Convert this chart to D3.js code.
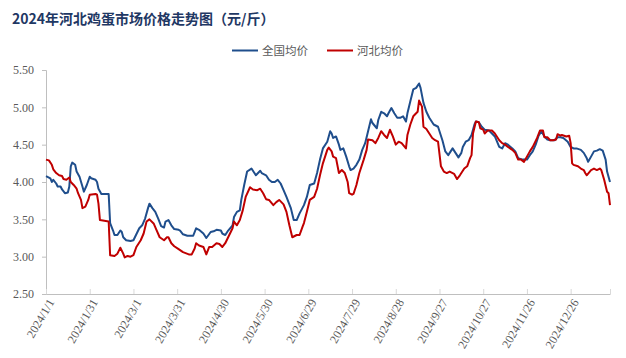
<!DOCTYPE html>
<html>
<head>
<meta charset="utf-8">
<script src="https://cdn.jsdelivr.net/npm/d3@7"></script>
<style>
  html, body { margin: 0; padding: 0; background: #fff; }
  svg { display: block; }
</style>
</head>
<body>
<svg id="chart" width="626" height="358"></svg>
<script>
const title = "2024年河北鸡蛋市场价格走势图（元/斤）";
const seriesNames = ["全国均价", "河北均价"];
const yTicks = [2.50, 3.00, 3.50, 4.00, 4.50, 5.00, 5.50];
const xTickLabels = ["2024/1/1","2024/1/31","2024/3/1","2024/3/31","2024/4/30","2024/5/30","2024/6/29","2024/7/29","2024/8/28","2024/9/27","2024/10/27","2024/11/26","2024/12/26"];
const xDomain = ["2024/1/1", "2025/1/22"];

const national = [
["2024/1/1",4.08],["2024/1/4",4.05],["2024/1/5",4.00],["2024/1/6",4.03],["2024/1/8",3.98],["2024/1/9",3.94],["2024/1/11",3.94],["2024/1/12",3.90],["2024/1/14",3.85],["2024/1/16",3.86],["2024/1/17",3.94],["2024/1/18",4.21],["2024/1/19",4.26],["2024/1/21",4.23],["2024/1/22",4.14],["2024/1/24",4.07],["2024/1/26",3.94],["2024/1/27",3.87],["2024/1/29",3.96],["2024/1/31",4.07],
["2024/2/1",4.05],["2024/2/4",4.03],["2024/2/5",4.00],["2024/2/6",3.91],["2024/2/8",3.84],["2024/2/13",3.84],["2024/2/14",3.45],["2024/2/16",3.35],["2024/2/17",3.29],["2024/2/19",3.29],["2024/2/21",3.35],["2024/2/22",3.33],["2024/2/23",3.26],["2024/2/25",3.22],["2024/2/28",3.21],
["2024/3/1",3.22],["2024/3/2",3.26],["2024/3/5",3.38],["2024/3/7",3.42],["2024/3/9",3.51],["2024/3/11",3.65],["2024/3/12",3.71],["2024/3/14",3.65],["2024/3/16",3.60],["2024/3/18",3.51],["2024/3/20",3.41],["2024/3/22",3.39],["2024/3/23",3.47],["2024/3/25",3.49],["2024/3/27",3.42],["2024/3/29",3.37],
["2024/4/1",3.36],["2024/4/2",3.35],["2024/4/4",3.30],["2024/4/7",3.28],["2024/4/11",3.28],["2024/4/13",3.38],["2024/4/15",3.36],["2024/4/18",3.31],["2024/4/20",3.25],["2024/4/23",3.33],["2024/4/25",3.34],["2024/4/27",3.36],["2024/4/30",3.35],
["2024/5/1",3.31],["2024/5/3",3.29],["2024/5/5",3.35],["2024/5/8",3.42],["2024/5/9",3.53],["2024/5/11",3.60],["2024/5/13",3.62],["2024/5/14",3.76],["2024/5/16",3.96],["2024/5/18",4.14],["2024/5/21",4.18],["2024/5/22",4.15],["2024/5/24",4.09],["2024/5/27",4.15],["2024/5/28",4.12],["2024/5/31",4.09],
["2024/6/2",4.03],["2024/6/4",4.00],["2024/6/6",4.00],["2024/6/8",4.03],["2024/6/10",3.98],["2024/6/12",3.89],["2024/6/14",3.80],["2024/6/17",3.65],["2024/6/19",3.49],["2024/6/21",3.49],["2024/6/23",3.58],["2024/6/26",3.69],["2024/6/28",3.80],["2024/6/30",3.96],
["2024/7/3",3.98],["2024/7/5",4.12],["2024/7/7",4.30],["2024/7/9",4.45],["2024/7/12",4.54],["2024/7/14",4.68],["2024/7/15",4.65],["2024/7/16",4.59],["2024/7/18",4.61],["2024/7/20",4.50],["2024/7/21",4.43],["2024/7/23",4.45],["2024/7/25",4.34],["2024/7/27",4.21],["2024/7/28",4.16],["2024/7/30",4.18],
["2024/8/1",4.23],["2024/8/3",4.30],["2024/8/5",4.43],["2024/8/7",4.52],["2024/8/9",4.68],["2024/8/11",4.84],["2024/8/12",4.79],["2024/8/15",4.72],["2024/8/16",4.83],["2024/8/18",4.94],["2024/8/20",4.92],["2024/8/22",4.88],["2024/8/23",4.92],["2024/8/25",4.99],["2024/8/27",4.92],["2024/8/29",4.86],["2024/8/31",4.86],
["2024/9/2",4.88],["2024/9/4",4.81],["2024/9/5",4.92],["2024/9/7",5.08],["2024/9/9",5.24],["2024/9/11",5.26],["2024/9/13",5.32],["2024/9/14",5.26],["2024/9/16",5.06],["2024/9/18",4.94],["2024/9/20",4.86],["2024/9/23",4.77],["2024/9/26",4.74],["2024/9/29",4.56],
["2024/10/1",4.41],["2024/10/3",4.36],["2024/10/4",4.39],["2024/10/6",4.45],["2024/10/8",4.39],["2024/10/10",4.33],["2024/10/12",4.39],["2024/10/13",4.47],["2024/10/15",4.54],["2024/10/17",4.56],["2024/10/19",4.63],["2024/10/21",4.77],["2024/10/22",4.81],["2024/10/24",4.80],["2024/10/26",4.74],["2024/10/28",4.70],["2024/10/31",4.69],
["2024/11/2",4.65],["2024/11/4",4.61],["2024/11/7",4.47],["2024/11/9",4.45],["2024/11/11",4.52],["2024/11/13",4.50],["2024/11/16",4.45],["2024/11/18",4.41],["2024/11/20",4.32],["2024/11/23",4.30],["2024/11/26",4.30],["2024/11/28",4.36],["2024/11/30",4.41],
["2024/12/2",4.50],["2024/12/4",4.62],["2024/12/6",4.68],["2024/12/8",4.61],["2024/12/10",4.57],["2024/12/12",4.56],["2024/12/15",4.56],["2024/12/17",4.60],["2024/12/19",4.60],["2024/12/21",4.59],["2024/12/24",4.54],["2024/12/26",4.47],["2024/12/28",4.45],["2024/12/30",4.45],
["2025/1/2",4.43],["2025/1/4",4.39],["2025/1/6",4.32],["2025/1/7",4.27],["2025/1/9",4.34],["2025/1/11",4.41],["2025/1/13",4.42],["2025/1/15",4.44],["2025/1/17",4.42],["2025/1/19",4.30],["2025/1/20",4.14],["2025/1/22",4.00]
];

const hebei = [
["2024/1/1",4.30],["2024/1/3",4.29],["2024/1/5",4.23],["2024/1/6",4.17],["2024/1/8",4.12],["2024/1/10",4.09],["2024/1/12",4.08],["2024/1/13",4.04],["2024/1/15",4.03],["2024/1/17",4.06],["2024/1/18",4.00],["2024/1/20",3.96],["2024/1/22",3.91],["2024/1/23",3.85],["2024/1/25",3.76],["2024/1/26",3.65],["2024/1/28",3.67],["2024/1/30",3.76],["2024/1/31",3.83],
["2024/2/4",3.84],["2024/2/5",3.83],["2024/2/6",3.71],["2024/2/7",3.49],["2024/2/13",3.47],["2024/2/14",3.02],["2024/2/17",3.01],["2024/2/19",3.04],["2024/2/21",3.12],["2024/2/23",3.04],["2024/2/24",2.99],["2024/2/26",3.01],["2024/2/28",3.00],
["2024/3/1",3.02],["2024/3/3",3.13],["2024/3/6",3.22],["2024/3/8",3.31],["2024/3/10",3.47],["2024/3/12",3.50],["2024/3/15",3.44],["2024/3/17",3.35],["2024/3/19",3.26],["2024/3/22",3.22],["2024/3/24",3.26],["2024/3/25",3.26],["2024/3/27",3.18],["2024/3/29",3.14],
["2024/4/1",3.10],["2024/4/4",3.06],["2024/4/8",3.03],["2024/4/10",3.03],["2024/4/12",3.11],["2024/4/13",3.18],["2024/4/15",3.15],["2024/4/18",3.13],["2024/4/20",3.03],["2024/4/22",3.13],["2024/4/24",3.13],["2024/4/27",3.18],["2024/4/29",3.17],
["2024/5/1",3.13],["2024/5/3",3.18],["2024/5/5",3.26],["2024/5/8",3.38],["2024/5/9",3.47],["2024/5/11",3.42],["2024/5/13",3.49],["2024/5/15",3.62],["2024/5/17",3.80],["2024/5/20",3.93],["2024/5/22",3.90],["2024/5/25",3.89],["2024/5/27",3.91],["2024/5/29",3.85],["2024/5/31",3.77],
["2024/6/2",3.76],["2024/6/5",3.69],["2024/6/7",3.73],["2024/6/9",3.76],["2024/6/12",3.70],["2024/6/14",3.60],["2024/6/16",3.42],["2024/6/18",3.26],["2024/6/21",3.29],["2024/6/23",3.29],["2024/6/25",3.40],["2024/6/26",3.45],["2024/6/28",3.60],["2024/6/30",3.76],
["2024/7/3",3.80],["2024/7/5",3.91],["2024/7/7",4.09],["2024/7/9",4.25],["2024/7/12",4.43],["2024/7/13",4.46],["2024/7/15",4.41],["2024/7/16",4.34],["2024/7/18",4.32],["2024/7/20",4.12],["2024/7/22",4.16],["2024/7/24",4.12],["2024/7/26",4.00],["2024/7/27",3.85],["2024/7/29",3.83],["2024/7/30",3.84],
["2024/8/1",3.96],["2024/8/3",4.12],["2024/8/6",4.30],["2024/8/8",4.43],["2024/8/9",4.57],["2024/8/12",4.56],["2024/8/14",4.52],["2024/8/16",4.59],["2024/8/18",4.68],["2024/8/20",4.63],["2024/8/22",4.59],["2024/8/24",4.70],["2024/8/26",4.61],["2024/8/28",4.50],["2024/8/30",4.54],
["2024/9/1",4.52],["2024/9/4",4.45],["2024/9/5",4.63],["2024/9/7",4.77],["2024/9/9",4.88],["2024/9/12",4.94],["2024/9/13",5.09],["2024/9/15",5.01],["2024/9/16",4.74],["2024/9/18",4.71],["2024/9/20",4.65],["2024/9/22",4.59],["2024/9/24",4.56],["2024/9/26",4.54],["2024/9/28",4.21],["2024/9/30",4.14],
["2024/10/2",4.12],["2024/10/4",4.14],["2024/10/7",4.11],["2024/10/9",4.04],["2024/10/11",4.09],["2024/10/14",4.18],["2024/10/16",4.21],["2024/10/18",4.32],["2024/10/19",4.36],["2024/10/20",4.65],["2024/10/22",4.81],["2024/10/24",4.80],["2024/10/25",4.72],["2024/10/27",4.70],["2024/10/28",4.65],["2024/10/30",4.69],
["2024/11/2",4.69],["2024/11/4",4.65],["2024/11/7",4.56],["2024/11/9",4.52],["2024/11/11",4.50],["2024/11/13",4.47],["2024/11/16",4.43],["2024/11/18",4.39],["2024/11/20",4.30],["2024/11/22",4.30],["2024/11/24",4.27],["2024/11/26",4.34],["2024/11/28",4.41],["2024/11/30",4.47],
["2024/12/3",4.59],["2024/12/5",4.69],["2024/12/7",4.69],["2024/12/8",4.60],["2024/12/10",4.60],["2024/12/12",4.56],["2024/12/14",4.56],["2024/12/16",4.57],["2024/12/17",4.64],["2024/12/19",4.62],["2024/12/20",4.63],["2024/12/23",4.61],["2024/12/25",4.62],["2024/12/26",4.52],["2024/12/27",4.25],["2024/12/28",4.23],["2024/12/31",4.21],
["2025/1/2",4.18],["2025/1/4",4.16],["2025/1/5",4.12],["2025/1/6",4.09],["2025/1/9",4.16],["2025/1/11",4.18],["2025/1/13",4.16],["2025/1/15",4.18],["2025/1/16",4.16],["2025/1/18",4.03],["2025/1/20",3.87],["2025/1/21",3.85],["2025/1/22",3.69]
];

const colors = ["#1F4E8C", "#C00000"];

const parse = d3.timeParse("%Y/%m/%d");
const fmt = d3.timeFormat("%Y/%-m/%-d");
const svg = d3.select("#chart");

const margin = {left: 46, right: 16, top: 70, bottom: 64};
const W = 626, H = 358;

const x = d3.scaleTime()
  .domain(xDomain.map(parse))
  .range([margin.left, W - margin.right]);
const y = d3.scaleLinear()
  .domain([2.5, 5.5])
  .range([H - margin.bottom, margin.top]);

const axisColor = "#BFBFBF";
const labelColor = "#595959";
const tickFont = "'Liberation Serif', 'Times New Roman', serif";

// Title
svg.append("text")
  .attr("x", 12).attr("y", 24)
  .attr("font-family", "'Noto Sans CJK SC', sans-serif")
  .attr("font-weight", "bold")
  .attr("font-size", 14)
  .attr("fill", "#1F3864")
  .text(title);

// Legend
const legendX = [232, 327];
seriesNames.forEach((name, i) => {
  const g = svg.append("g").attr("transform", `translate(${legendX[i]},50.5)`);
  g.append("line").attr("x1", 0).attr("x2", 26).attr("y1", 0).attr("y2", 0)
    .attr("stroke", colors[i]).attr("stroke-width", 2);
  g.append("text").attr("x", 30).attr("y", 0).attr("dy", "0.35em")
    .attr("font-family", "'Noto Sans CJK SC', sans-serif")
    .attr("font-size", 11.5).attr("fill", labelColor).text(name);
});

// Y axis
const yAxis = d3.axisLeft(y).tickValues(yTicks).tickFormat(d3.format(".2f")).tickSize(4).tickPadding(8);
const yg = svg.append("g").attr("transform", `translate(${margin.left},0)`).call(yAxis);
yg.select(".domain").attr("stroke", axisColor);
yg.selectAll(".tick line").attr("stroke", axisColor);
yg.selectAll(".tick text").attr("fill", labelColor).attr("font-size", 12).attr("font-family", tickFont);

// X axis
const xTickDates = xTickLabels.map(parse);
const xAxis = d3.axisBottom(x).tickValues(xTickDates.concat([x.domain()[1]])).tickFormat("").tickSizeInner(-5).tickSizeOuter(0);
const xg = svg.append("g").attr("transform", `translate(0,${H - margin.bottom})`).call(xAxis);
xg.select(".domain").attr("stroke", axisColor);
xg.selectAll(".tick line").attr("stroke", "#D9D9D9");

// X labels rotated
svg.append("g").selectAll("text")
  .data(xTickDates)
  .join("text")
  .attr("transform", d => `translate(${x(d) + 5},${H - margin.bottom + 6}) rotate(-60)`)
  .attr("text-anchor", "end")
  .attr("dy", "0.35em")
  .attr("font-size", 12)
  .attr("font-family", tickFont)
  .attr("fill", labelColor)
  .text(d => fmt(d));

// Lines
const line = d3.line().x(d => x(parse(d[0]))).y(d => y(d[1]));
[national, hebei].forEach((data, i) => {
  svg.append("path")
    .datum(data)
    .attr("fill", "none")
    .attr("stroke", colors[i])
    .attr("stroke-width", 2)
    .attr("stroke-linejoin", "round")
    .attr("d", line);
});
</script>
</body>
</html>
